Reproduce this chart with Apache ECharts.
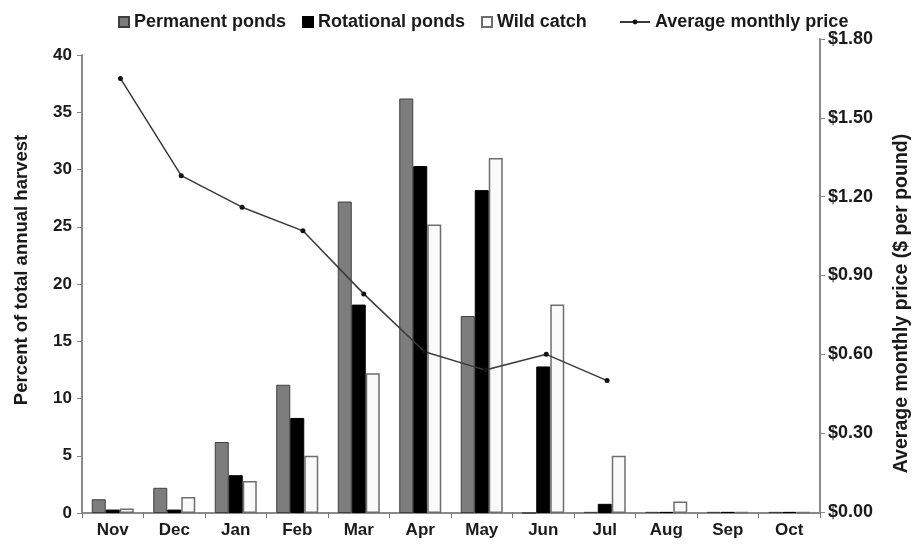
<!DOCTYPE html>
<html><head><meta charset="utf-8">
<script src="https://cdn.jsdelivr.net/npm/echarts@6/dist/echarts.min.js"></script>
<style>html,body{margin:0;padding:0;background:#fff}#c{width:920px;height:545px}</style>
</head><body><div id="c"></div>
<script>
const months = ['Nov','Dec','Jan','Feb','Mar','Apr','May','Jun','Jul','Aug','Sep','Oct'];
const permanentPonds = [1.2, 2.2, 6.2, 11.2, 27.2, 36.2, 17.2, 0, 0.1, 0.1, 0.1, 0.1];
const rotationalPonds = [0.3, 0.3, 3.3, 8.3, 18.2, 30.3, 28.2, 12.8, 0.8, 0.1, 0.1, 0.1];
const wildCatch = [0.4, 1.4, 2.8, 5.0, 12.2, 25.2, 31.0, 18.2, 5.0, 1.0, 0.1, 0.1];
const avgPrice = [1.65, 1.28, 1.16, 1.07, 0.83, 0.61, 0.54, 0.60, 0.50, null, null, null];
const leftTicks = [0, 5, 10, 15, 20, 25, 30, 35, 40];
const rightTicks = ['$0.00','$0.30','$0.60','$0.90','$1.20','$1.50','$1.80'];

const FONT = 'Liberation Sans, Arial, sans-serif';
const txt = {fontFamily: FONT, fontWeight: 'bold', color: '#1a1a1a', fontSize: 17};
const legTxt = Object.assign({}, txt, {fontSize: 18});
const chart = echarts.init(document.getElementById('c'));
chart.setOption({
  backgroundColor: '#fff',
  animation: false,
  legend: [
    {data: ['Permanent ponds'], left: 113, top: 8, itemWidth: 10, itemHeight: 10, textStyle: legTxt, icon: 'rect'},
    {data: ['Rotational ponds'], left: 297, top: 8, itemWidth: 10, itemHeight: 10, textStyle: legTxt, icon: 'rect'},
    {data: ['Wild catch'], left: 476, top: 8, itemWidth: 10, itemHeight: 10, textStyle: legTxt, icon: 'rect'},
    {data: ['Average monthly price'], left: 614, top: 8, itemWidth: 30, itemHeight: 6, textStyle: legTxt}
  ],
  grid: [
    {left: 82, right: 100, top: 55, bottom: 32, outerBoundsMode: 'none', containLabel: false},
    {left: 90, right: 100, top: 39, bottom: 33, outerBoundsMode: 'none', containLabel: false}
  ],
  xAxis: [
    {type: 'category', data: months, gridIndex: 0,
     axisLine: {lineStyle: {color: '#8a8a8a', width: 2}},
     axisTick: {show: true, length: 5, lineStyle: {color: '#777'}},
     axisLabel: Object.assign({}, txt, {margin: 9})},
    {type: 'category', data: months, gridIndex: 1, show: false}
  ],
  yAxis: [
    {type: 'value', gridIndex: 0, min: 0, max: 40, interval: 5,
     name: 'Percent of total annual harvest', nameLocation: 'middle', nameGap: 51,
     nameTextStyle: Object.assign({}, txt, {fontSize: 18.5, padding: [0, 0, 0, 28]}),
     axisLine: {show: true, lineStyle: {color: '#8a8a8a', width: 2}},
     axisTick: {show: true, length: 5, lineStyle: {color: '#888'}},
     axisLabel: Object.assign({}, txt, {margin: 10, formatter: v => leftTicks.includes(v) ? String(v) : ''}),
     splitLine: {show: false}},
    {type: 'value', gridIndex: 1, position: 'right', min: 0, max: 1.8, interval: 0.3,
     name: 'Average monthly price ($ per pound)', nameLocation: 'middle', nameGap: 72,
     nameTextStyle: Object.assign({}, txt, {fontSize: 19.5, padding: [0, 56, 0, 0]}),
     axisLine: {show: true, lineStyle: {color: '#8a8a8a', width: 2}},
     axisTick: {show: true, length: 5, lineStyle: {color: '#888'}},
     axisLabel: Object.assign({}, txt, {fontSize: 18, margin: 8, formatter: v => rightTicks[Math.round(v / 0.3)] || ''}),
     splitLine: {show: false}}
  ],
  series: [
    {name: 'Permanent ponds', type: 'bar', data: permanentPonds, xAxisIndex: 0, yAxisIndex: 0,
     barWidth: 14, barGap: '0%',
     itemStyle: {color: '#7d7d7d', borderColor: '#3f3f3f', borderWidth: 1}},
    {name: 'Rotational ponds', type: 'bar', data: rotationalPonds, xAxisIndex: 0, yAxisIndex: 0,
     barWidth: 14, barGap: '0%',
     itemStyle: {color: '#000', borderColor: '#000', borderWidth: 1}},
    {name: 'Wild catch', type: 'bar', data: wildCatch, xAxisIndex: 0, yAxisIndex: 0,
     barWidth: 14, barGap: '0%',
     itemStyle: {color: '#fafafa', borderColor: '#6e6e6e', borderWidth: 1.5}},
    {name: 'Average monthly price', type: 'line', data: avgPrice, xAxisIndex: 1, yAxisIndex: 1,
     symbol: 'circle', symbolSize: 5, connectNulls: false,
     lineStyle: {color: '#3a3a3a', width: 1.5},
     itemStyle: {color: '#111'}}
  ]
});
</script></body></html>
